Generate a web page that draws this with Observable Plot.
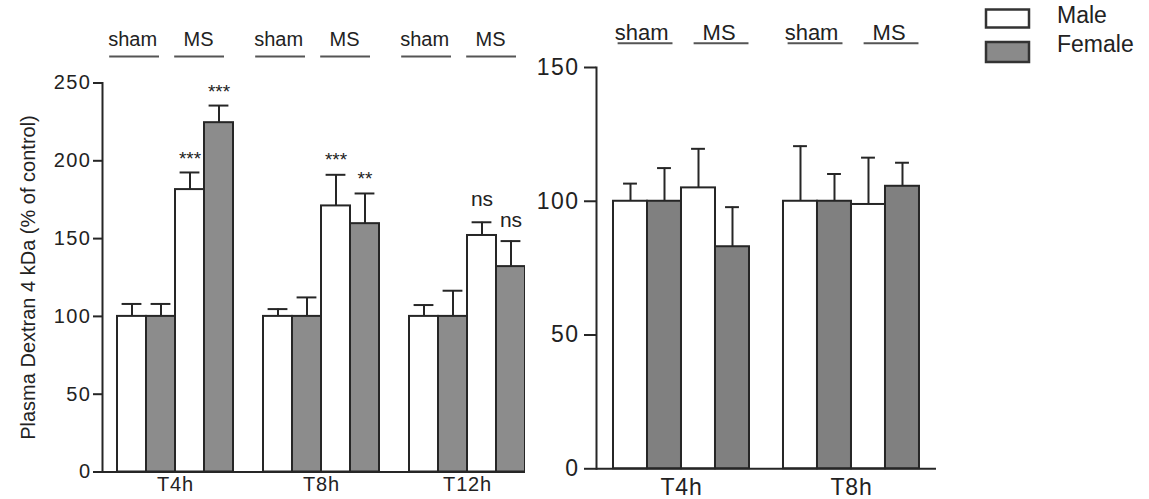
<!DOCTYPE html>
<html><head><meta charset="utf-8">
<script src="https://cdn.jsdelivr.net/npm/d3@7"></script>
<script src="https://cdn.jsdelivr.net/npm/@observablehq/plot@0.6"></script>
<style>
html,body{margin:0;padding:0;background:#fff;}
#wrap{position:relative;width:1149px;height:499px;overflow:hidden;font-family:"Liberation Sans",Arial,sans-serif;background:#fff;}
#left{position:absolute;left:0;top:0;width:525px;height:499px;overflow:hidden;}
#right{position:absolute;left:520px;top:0;width:410px;height:499px;}
#legend{position:absolute;left:0;top:0;}
g[aria-label="y-axis tick label"] text{letter-spacing:1.5px;}
g[aria-label="fx-axis tick label"] text{letter-spacing:0.8px;}
g[aria-label="header"] text{letter-spacing:1.5px;}
#right g[aria-label="header"] text{letter-spacing:3.5px;}
g[aria-label="stars"] text{letter-spacing:2.5px;}
</style></head>
<body><div id="wrap"><div id="left"></div><div id="right"></div><svg id="legend" width="1149" height="499"></svg></div>
<script>
const sexes = ["Male", "Female"];
const conditions = ["sham", "MS"];
const groupsL = ["T4h", "T8h", "T12h"];
const groupsR = ["T4h", "T8h"];
const ticksL = [0, 50, 100, 150, 200, 250];
const ticksR = [0, 50, 100, 150];
const yLabelL = "Plasma Dextran 4 kDa (% of control)";
// order in each group: sham Male, sham Female, MS Male, MS Female
const meanL = [[100, 100, 181.5, 224.5], [100, 100, 171, 159.6], [100, 100, 152, 132]];
const upperL = [[108, 108, 192.5, 235.5], [104.7, 112.2, 191, 179], [107.3, 116.5, 160.5, 148.4]];
const noteL = [["", "", "***", "***"], ["", "", "***", "**"], ["", "", "ns", "ns"]];
const noteLevelL = [[null, null, 204.5, 247.5], [null, null, 203.5, 191.7], [null, null, 175.5, 162]];
const meanR = [[100, 100, 105, 83], [100, 100, 98.8, 105.6]];
const upperR = [[106.6, 112.4, 119.6, 97.8], [120.6, 110.2, 116.3, 114.4]];
const fillL = ["#ffffff", "#8c8c8c"];
const fillR = ["#ffffff", "#808080"];
const fillLegend = ["#ffffff", "#8a8a8a"];

const ink = "#262626";

function panel({groups, mean, upper, note, level, ticks, fills, L}) {
  const keys = conditions.flatMap(c => sexes.map(s => `${c} ${s}`));
  const rows = groups.flatMap((g, gi) => keys.map((k, ki) => ({
    g, k, sex: sexes[ki % 2], v: mean[gi][ki], e: upper[gi][ki],
    note: note ? note[gi][ki] : "", level: level ? level[gi][ki] : null
  })));
  const heads = groups.flatMap(g => conditions.map(c => ({g, c, k: `${c} ${sexes[0]}`})));
  const bw = L.facetW / (keys.length + 2 * L.padOuter);
  const width = L.marginLeft + L.facetW * groups.length + L.marginRight;
  const marks = [
    Plot.barY(rows, {fx: "g", x: "k", y: "v", fill: "sex", stroke: ink, strokeWidth: 2}),
    Plot.ruleX(rows, {fx: "g", x: "k", y1: "v", y2: "e", stroke: ink, strokeWidth: 2}),
    Plot.tickY(rows, {fx: "g", x: "k", y: "e", stroke: ink, strokeWidth: 2,
      insetLeft: (bw - L.cap) / 2, insetRight: (bw - L.cap) / 2}),
    Plot.ruleY([0], {stroke: ink, strokeWidth: 2}),
    Plot.frame({anchor: "left", facetAnchor: "left", stroke: ink, strokeWidth: 2}),
    Plot.axisY({ticks, tickSize: L.tickSize, tickPadding: L.tickPadding, fontSize: L.tickFont,
      stroke: ink, strokeWidth: 2, label: null}),
    Plot.axisFx({anchor: "bottom", tickSize: 0, tickPadding: L.fxPadding, fontSize: L.fxFont, label: null})
  ];
  conditions.forEach((c, i) => {
    const hs = heads.filter(d => d.c === c);
    marks.push(Plot.text(hs, {fx: "g", x: "k", text: "c", frameAnchor: "top", dy: L.headTextDy,
      dx: bw / 2 + L.headTextOff[i], fontSize: L.headFont, ariaLabel: "header"}));
    marks.push(Plot.tickY(hs, {fx: "g", x: "k", y: ticks[ticks.length - 1], dy: L.headLineDy,
      dx: bw / 2 + L.headLineOff[i], insetLeft: (bw - L.headLineLen) / 2, insetRight: (bw - L.headLineLen) / 2,
      stroke: "#555", strokeWidth: 2}));
  });
  const stars = rows.filter(d => d.note && d.note.startsWith("*"));
  const ns = rows.filter(d => d.note === "ns");
  if (stars.length) marks.push(Plot.text(stars, {fx: "g", x: "k", y: "level", text: "note", fontSize: 19, dy: 5, ariaLabel: "stars"}));
  if (ns.length) marks.push(Plot.text(ns, {fx: "g", x: "k", y: "level", text: "note", fontSize: 21}));
  if (L.yLabel) marks.push(Plot.text([L.yLabel], {frameAnchor: "left", facetAnchor: "left", rotate: -90,
    textAnchor: "middle", dx: -L.yLabelOffset, text: d => d, fontSize: 20}));
  return Plot.plot({
    width, height: 499,
    marginLeft: L.marginLeft, marginRight: L.marginRight, marginTop: L.marginTop, marginBottom: L.marginBottom,
    style: {background: "none", maxWidth: "none", overflow: "visible",
      fontFamily: '"Liberation Sans", Arial, sans-serif', color: "#222"},
    fx: {domain: groups, padding: 0},
    x: {domain: keys, paddingInner: 0, paddingOuter: L.padOuter, align: 0.5, axis: null},
    y: {domain: [ticks[0], ticks[ticks.length - 1]]},
    color: {domain: sexes, range: fills},
    marks
  });
}

document.getElementById("left").append(panel({
  groups: groupsL, mean: meanL, upper: upperL, note: noteL, level: noteLevelL, ticks: ticksL, fills: fillL,
  L: {marginLeft: 101, marginRight: 0, marginTop: 82.5, marginBottom: 27.5, facetW: 146.5, padOuter: 0.51,
    cap: 20, tickSize: 9, tickPadding: 2, tickFont: 20, fxPadding: 5, fxFont: 20, headFont: 20,
    headTextDy: -51.2, headLineDy: -26.5, headTextOff: [-14, -6], headLineOff: [-12, -5], headLineLen: 50,
    yLabel: yLabelL, yLabelOffset: 74}
}));

document.getElementById("right").append(panel({
  groups: groupsR, mean: meanR, upper: upperR, ticks: ticksR, fills: fillR,
  L: {marginLeft: 75, marginRight: 5, marginTop: 67, marginBottom: 30.7, facetW: 170.6, padOuter: 0.5,
    cap: 14, tickSize: 12, tickPadding: 5, tickFont: 23, fxPadding: 10, fxFont: 23, headFont: 22,
    headTextDy: -43.3, headLineDy: -24.3, headTextOff: [-6, 3.5], headLineOff: [-2, 6], headLineLen: 55}
}));

// legend
const leg = d3.select("#legend");
const legRows = sexes.map((s, i) => ({s, fill: fillLegend[i], top: [9.5, 42][i], h: [18, 20][i], base: [23.3, 52.3][i]}));
leg.selectAll("rect").data(legRows).join("rect")
  .attr("x", 986).attr("y", d => d.top).attr("width", 43).attr("height", d => d.h)
  .attr("fill", d => d.fill).attr("stroke", "#333").attr("stroke-width", 2.5);
leg.selectAll("text").data(legRows).join("text")
  .attr("x", 1057).attr("y", d => d.base).text(d => d.s)
  .attr("font-family", '"Liberation Sans", Arial, sans-serif').attr("font-size", 23).attr("fill", "#222");
</script></body></html>
